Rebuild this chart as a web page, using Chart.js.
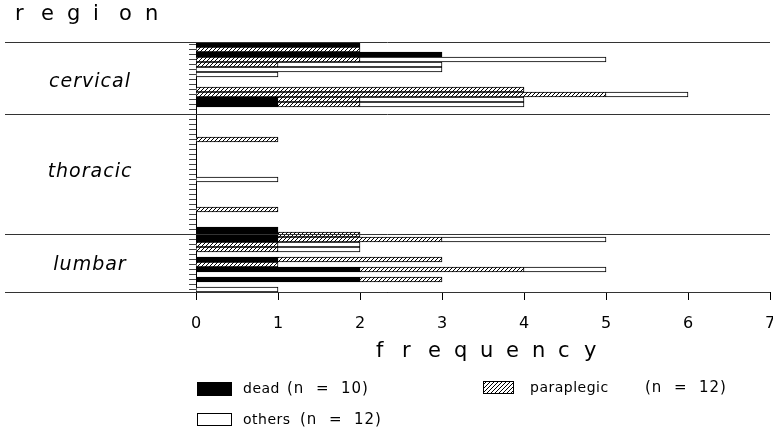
<!DOCTYPE html>
<html>
<head>
<meta charset="utf-8">
<script src="https://cdn.jsdelivr.net/npm/chart.js@4/dist/chart.umd.min.js"></script>
<style>
  body { margin: 0; background: #fff; }
  #wrap { position: relative; width: 773px; height: 433px; }
</style>
</head>
<body>
<div id="wrap"><canvas id="regionChart" width="773" height="433"></canvas></div>
<script>
// one row per level, top to bottom (50 rows: cervical, thoracic, lumbar)
const rows = Array.from({ length: 50 }, (_, i) => 'L' + i);
const dead = [2,0,3,0,0,0,0,0,0,0,0,1,1,0, 0,0,0,0,0,0,0,0,0,0,0,0,0,0,0,0,0,0,0,0,0,0,0, 1,1,1,0,0,0,1,0,2,0,2,0,0];
const paraplegic = [0,2,0,2,1,0,0,0,0,4,5,1,1,0, 0,0,0,0,0,1,0,0,0,0,0,0,0,0,0,0,0,0,0,1,0,0,0, 0,1,2,1,1,0,2,1,2,0,1,0,0];
const others = [0,0,0,3,2,3,1,0,0,0,1,2,2,0, 0,0,0,0,0,0,0,0,0,0,0,0,0,1,0,0,0,0,0,0,0,0,0, 0,0,2,1,1,0,0,0,1,0,0,0,1];

// region names and their borders (in row units)
const regions = ['cervical', 'thoracic', 'lumbar'];
const regionBounds = [-0.5, 13.85, 37.9, 49.5];
const legendItems = ['dead', 'paraplegic', 'others'];
const legendCounts = ['(n  =  10)', '(n  =  12)', '(n  =  12)'];

const FONT = '"DejaVu Sans", sans-serif';
const ctx = document.getElementById('regionChart').getContext('2d');

function makeHatch() {
  const c = document.createElement('canvas');
  c.width = 4; c.height = 4;
  const g = c.getContext('2d');
  g.fillStyle = '#fff';
  g.fillRect(0, 0, 4, 4);
  g.strokeStyle = '#000';
  g.lineWidth = 1;
  g.beginPath();
  g.moveTo(0, 4); g.lineTo(4, 0);
  g.stroke();
  return ctx.createPattern(c, 'repeat');
}
const hatch = makeHatch();
const fills = ['#000', hatch, '#fff'];

const nz = arr => arr.map(v => (v === 0 ? null : v));

// separators, region names, axis title, legend
const decorations = {
  id: 'decorations',
  afterDraw(chart) {
    const c = chart.ctx;
    const y = chart.scales.y;
    const area = chart.chartArea;
    c.save();
    c.strokeStyle = '#333';
    c.lineWidth = 1;
    regionBounds.forEach(b => {
      const py = Math.round(y.getPixelForValue(b)) + 0.5;
      c.beginPath();
      c.moveTo(5, py);
      c.lineTo(area.right, py);
      c.stroke();
    });
    c.fillStyle = '#000';
    c.textAlign = 'center';
    c.textBaseline = 'middle';
    c.font = 'italic 19px ' + FONT;
    c.letterSpacing = '1px';
    const labelY = [82, 172, 265];
    regions.forEach((name, i) => c.fillText(name, 90, labelY[i]));

    // spaced-out titles
    c.letterSpacing = '0px';
    c.font = '21px ' + FONT;
    c.textAlign = 'left';
    'region'.split('').forEach((ch, i) => c.fillText(ch, 15 + i * 26, 15));
    'frequency'.split('').forEach((ch, i) => c.fillText(ch, 376 + i * 26, 352));

    // legend
    const boxes = [[197, 382, 34, 13], [483, 381, 30, 12], [197, 413, 34, 12]];
    const textX = [[243, 287], [530, 645], [243, 300]];
    legendItems.forEach((name, i) => {
      const [bx, by, bw, bh] = boxes[i];
      c.fillStyle = fills[i];
      c.fillRect(bx, by, bw, bh);
      c.strokeStyle = '#000';
      c.strokeRect(bx + 0.5, by + 0.5, bw, bh);
      c.fillStyle = '#000';
      c.font = '14px ' + FONT;
      c.letterSpacing = '0.5px';
      c.fillText(name, textX[i][0], by + bh / 2 + 1);
      c.font = '15px ' + FONT;
      c.letterSpacing = '1px';
      c.fillText(legendCounts[i], textX[i][1], by + bh / 2 + 1);
    });
    c.restore();
  }
};

const chart = new Chart(ctx, {
  type: 'bar',
  data: {
    labels: rows,
    datasets: [
      { label: 'dead', data: nz(dead), backgroundColor: fills[0] },
      { label: 'paraplegic', data: nz(paraplegic), backgroundColor: fills[1] },
      { label: 'others', data: nz(others), backgroundColor: fills[2] }
    ].map(d => Object.assign(d, {
      borderColor: '#000',
      borderWidth: 1,
      barPercentage: 1,
      categoryPercentage: 1
    }))
  },
  options: {
    indexAxis: 'y',
    responsive: false,
    animation: false,
    layout: { padding: { left: 0, right: 3, top: 42, bottom: 91 } },
    plugins: {
      legend: { display: false },
      tooltip: { enabled: false }
    },
    scales: {
      x: {
        stacked: true,
        min: 0,
        max: 7,
        ticks: { stepSize: 1, color: '#000', font: { family: FONT, size: 16 }, padding: 14 },
        grid: { drawOnChartArea: false, tickLength: 8, color: '#000' },
        border: { color: '#000' },
        afterFit(s) { s.height = 50; s.paddingLeft = 0; s.paddingRight = 0; }
      },
      y: {
        stacked: true,
        ticks: { display: false },
        grid: { drawOnChartArea: false, tickLength: 7, color: '#444', offset: false },
        border: { color: '#000' },
        afterFit(s) { s.width = 196; }
      }
    }
  },
  plugins: [decorations]
});
</script>
</body>
</html>
